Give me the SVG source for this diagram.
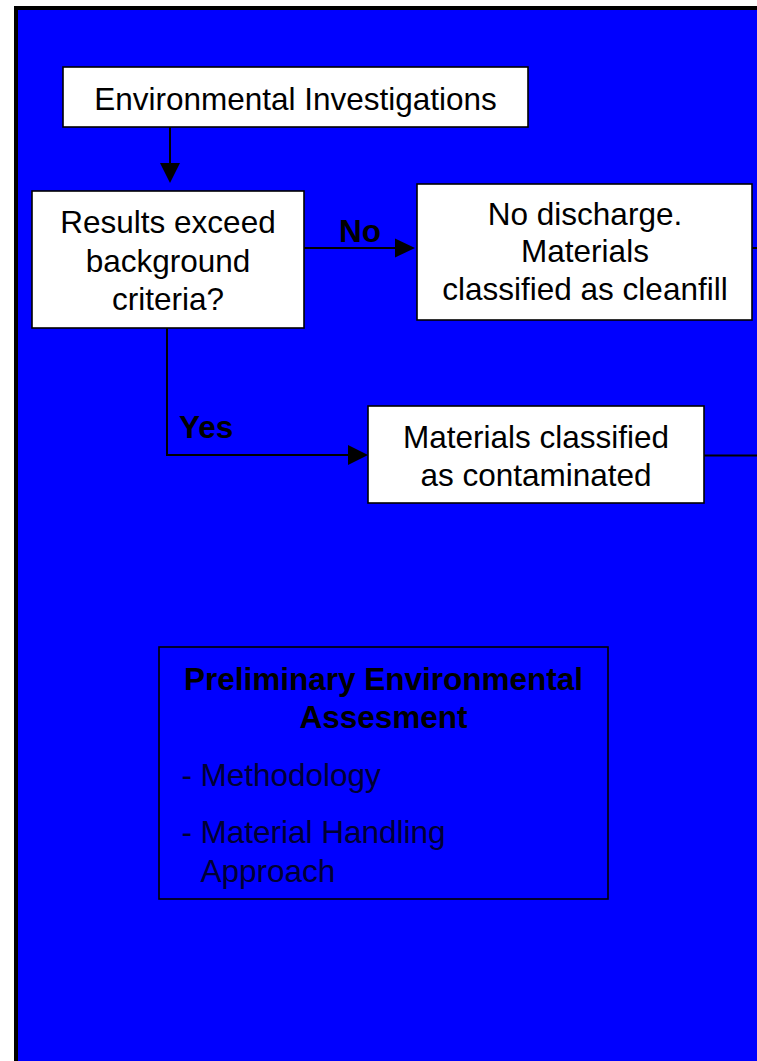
<svg xmlns="http://www.w3.org/2000/svg" width="757" height="1061" viewBox="0 0 757 1061">
<style>
.box{fill:#ffffff;stroke:#000000;stroke-width:1.6}
.t{font-family:"Liberation Sans",Arial,sans-serif;font-size:31.5px;fill:#000000;text-anchor:middle}
.b{font-family:"Liberation Sans",Arial,sans-serif;font-size:31.5px;font-weight:bold;fill:#000000}
.l{font-family:"Liberation Sans",Arial,sans-serif;font-size:31.5px;fill:#000033}
.c{fill:none;stroke:#000000;stroke-width:2}
.h{fill:#000000}
</style>
<rect x="0" y="0" width="757" height="1061" fill="#ffffff"/>
<rect x="16" y="8" width="800" height="1100" fill="#0000ff" stroke="#000000" stroke-width="4"/>
<g id="connectors">
<line class="c" x1="170" y1="127" x2="170" y2="165"/>
<polygon class="h" points="160,163 180,163 170,183"/>
<line class="c" x1="304" y1="248" x2="397" y2="248"/>
<polygon class="h" points="395,238.5 415,248 395,257.5"/>
<polyline class="c" points="167,328 167,455 350,455"/>
<polygon class="h" points="348,445 368,455 348,465"/>
<line class="c" x1="752" y1="248" x2="757" y2="248"/>
<line class="c" x1="704" y1="455.5" x2="757" y2="455.5"/>
<text class="b" x="360" y="242" text-anchor="middle">No</text>
<text class="b" x="179" y="438">Yes</text>
</g>
<g id="env-investigations">
<rect class="box" x="63" y="67" width="465" height="60"/>
<text class="t" x="295.5" y="110">Environmental Investigations</text>
</g>
<g id="results-exceed">
<rect class="box" x="32" y="191" width="272" height="137"/>
<text class="t" x="168" y="233">Results exceed</text>
<text class="t" x="168" y="272">background</text>
<text class="t" x="168" y="310">criteria?</text>
</g>
<g id="no-discharge">
<rect class="box" x="417" y="184" width="335" height="136"/>
<text class="t" x="585" y="225">No discharge.</text>
<text class="t" x="585" y="262">Materials</text>
<text class="t" x="585" y="300">classified as cleanfill</text>
</g>
<g id="contaminated">
<rect class="box" x="368" y="406" width="336" height="97"/>
<text class="t" x="536" y="448">Materials classified</text>
<text class="t" x="536" y="486">as contaminated</text>
</g>
<g id="preliminary">
<rect x="159" y="647" width="449" height="252" fill="none" stroke="#000000" stroke-width="1.6"/>
<text class="b" x="383.5" y="690" text-anchor="middle">Preliminary Environmental</text>
<text class="b" x="383.5" y="728" text-anchor="middle">Assesment</text>
<text class="l" x="181.5" y="786">-</text>
<text class="l" x="200.5" y="786">Methodology</text>
<text class="l" x="181.5" y="843">-</text>
<text class="l" x="200.5" y="843">Material Handling</text>
<text class="l" x="200.5" y="882">Approach</text>
</g>
</svg>
